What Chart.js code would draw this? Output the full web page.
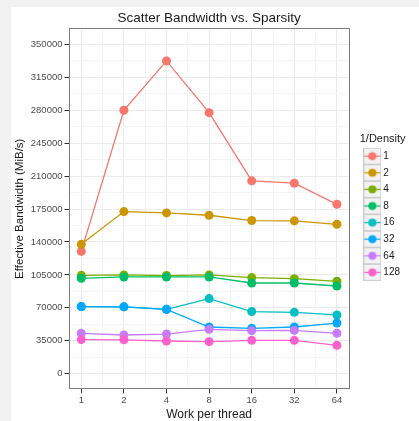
<!DOCTYPE html>
<html>
<head>
<meta charset="utf-8">
<script src="https://cdn.jsdelivr.net/npm/chart.js@4.4.1/dist/chart.umd.min.js"></script>
<style>
  html, body { margin: 0; padding: 0; background: #f2f2f2; }
  #wrap { position: absolute; left: 11px; top: 7px; width: 408px; height: 414px; background: #fff; }
</style>
</head>
<body>
<div id="wrap"><canvas id="chart" width="408" height="414"></canvas></div>
<script>
const workPerThread = ['1', '2', '4', '8', '16', '32', '64'];
const densityLabels = ['1', '2', '4', '8', '16', '32', '64', '128'];
const yTicks = [0, 35000, 70000, 105000, 140000, 175000, 210000, 245000, 280000, 315000, 350000];
const seriesColors = ['#F8766D', '#CD9600', '#7CAE00', '#00BE67', '#00BFC4', '#00A9FF', '#C77CFF', '#FF61CC'];

// effective bandwidth (MiB/s), one array per 1/density
const bw1   = [130000, 280000, 332500, 277500, 205000, 202500, 180000];
const bw2   = [137500, 172300, 170900, 168400, 162800, 162500, 158800];
const bw4   = [104500, 105000, 104300, 105000, 102100, 101000, 98200];
const bw8   = [101400, 102800, 102800, 102800, 96400, 96400, 93200];
const bw16  = [71300, 71000, 68400, 79800, 66000, 65200, 62400];
const bw32  = [71300, 71000, 68400, 49600, 48200, 49600, 53800];
const bw64  = [42900, 41100, 42100, 47100, 45700, 46000, 42900];
const bw128 = [36200, 36000, 34700, 34000, 35400, 35400, 30100];
const allSeries = [bw1, bw2, bw4, bw8, bw16, bw32, bw64, bw128];

const FONT = '"Liberation Sans", Arial, sans-serif';
const gridCol = '#ebebeb';
const minorCol = '#f5f5f5';

// major ticks plus the minor ones halfway between them
function withMinor(major) {
    let out = [];
    major.forEach((v, i) => {
        out.push({value: v, major: true});
        if (i < major.length - 1) out.push({value: (v + major[i + 1]) / 2, major: false});
    });
    return out;
}
const xTickObjs = withMinor(workPerThread.map((l, i) => i));
const yTickObjs = withMinor(yTicks);
const isMajor = (c) => c.tick && c.tick.major;

function makeKey(color) {
    const c = document.createElement('canvas');
    c.width = 18; c.height = 17;
    const g = c.getContext('2d');
    g.fillStyle = '#f2f2f2';
    g.fillRect(0, 0, 18, 17);
    g.strokeStyle = '#cccccc';
    g.lineWidth = 1;
    g.strokeRect(0.5, 0.5, 17, 16);
    g.strokeStyle = color;
    g.lineWidth = 1.2;
    g.beginPath();
    g.moveTo(1, 8.5); g.lineTo(17, 8.5);
    g.stroke();
    g.fillStyle = color;
    g.beginPath();
    g.arc(9, 8.5, 4, 0, Math.PI * 2);
    g.fill();
    return c;
}
const keys = seriesColors.map(makeKey);

const datasets = allSeries.map((vals, i) => ({
    label: densityLabels[i],
    data: vals.map((v, j) => ({x: j, y: v})),
    borderColor: seriesColors[i],
    backgroundColor: seriesColors[i],
    borderWidth: 1.3,
    pointRadius: 4.5,
    pointBorderWidth: 0,
    pointHoverRadius: 4.5,
    order: -i
}));

const panelBorder = {
    id: 'panelBorder',
    afterDraw(chart) {
        const a = chart.chartArea, ctx = chart.ctx;
        ctx.save();
        ctx.strokeStyle = '#7f7f7f';
        ctx.lineWidth = 1;
        ctx.strokeRect(Math.round(a.left) + 0.5, Math.round(a.top) + 0.5, Math.round(a.right - a.left) - 1, Math.round(a.bottom - a.top) - 1);
        ctx.restore();
    }
};

new Chart(document.getElementById('chart'), {
    type: 'line',
    data: { datasets: datasets },
    options: {
        responsive: false,
        animation: false,
        layout: { padding: { left: 0, right: 9, top: 3, bottom: 0 } },
        plugins: {
            tooltip: { enabled: false },
            title: {
                display: true,
                text: 'Scatter Bandwidth vs. Sparsity',
                fullSize: false,
                color: '#1a1a1a',
                font: { family: FONT, size: 13.5, weight: 'normal' },
                padding: { top: 0, bottom: 2 }
            },
            legend: {
                position: 'right',
                align: 'center',
                fullSize: false,
                title: {
                    display: true,
                    text: '1/Density',
                    position: 'start',
                    color: '#1a1a1a',
                    font: { family: FONT, size: 11, lineHeight: 1.0 },
                    padding: { top: 0, bottom: 0 }
                },
                labels: {
                    usePointStyle: true,
                    pointStyleWidth: 12,
                    color: '#1a1a1a',
                    font: { family: FONT, size: 10 },
                    padding: 6.6,
                    generateLabels: (chart) => chart.data.datasets.map((d, i) => ({
                        text: d.label,
                        fillStyle: d.borderColor,
                        strokeStyle: d.borderColor,
                        lineWidth: 0,
                        pointStyle: keys[i],
                        datasetIndex: i,
                        hidden: false
                    }))
                },
                onClick: null
            }
        },
        scales: {
            x: {
                type: 'linear',
                min: -0.3,
                max: 6.3,
                afterBuildTicks: (s) => { s.ticks = xTickObjs.map(t => ({...t})); },
                ticks: {
                    autoSkip: false,
                    maxRotation: 0,
                    color: '#4d4d4d',
                    font: { family: FONT, size: 9.5, lineHeight: 1.1 },
                    padding: 2,
                    callback: function (v, i, ticks) { return ticks[i].major ? workPerThread[Math.round(v)] : ''; }
                },
                grid: {
                    color: (c) => isMajor(c) ? gridCol : minorCol,
                    tickColor: (c) => isMajor(c) ? '#333333' : 'rgba(0,0,0,0)',
                    tickLength: 4,
                    lineWidth: 1
                },
                border: { display: false },
                title: {
                    display: true,
                    text: 'Work per thread',
                    color: '#1a1a1a',
                    font: { family: FONT, size: 12, lineHeight: 1.1 },
                    padding: { top: 0, bottom: 0 }
                }
            },
            y: {
                min: -16700,
                max: 367300,
                afterBuildTicks: (s) => { s.ticks = yTickObjs.map(t => ({...t})); },
                ticks: {
                    autoSkip: false,
                    color: '#4d4d4d',
                    font: { family: FONT, size: 9.5 },
                    padding: 2,
                    callback: function (v, i, ticks) { return ticks[i].major ? String(v) : ''; }
                },
                grid: {
                    color: (c) => isMajor(c) ? gridCol : minorCol,
                    tickColor: (c) => isMajor(c) ? '#333333' : 'rgba(0,0,0,0)',
                    tickLength: 4,
                    lineWidth: 1
                },
                border: { display: false },
                title: {
                    display: true,
                    text: 'Effective Bandwidth (MiB/s)',
                    color: '#1a1a1a',
                    font: { family: FONT, size: 11.5 },
                    padding: { top: 2, bottom: 2 }
                }
            },
            // empty axis used only as the gap between panel and legend
            gap: {
                type: 'linear',
                axis: 'y',
                position: 'right',
                grid: { display: false },
                ticks: { display: false },
                border: { display: false },
                afterFit: (s) => { s.width = 10; }
            }
        }
    },
    plugins: [panelBorder]
});
</script>
</body>
</html>
